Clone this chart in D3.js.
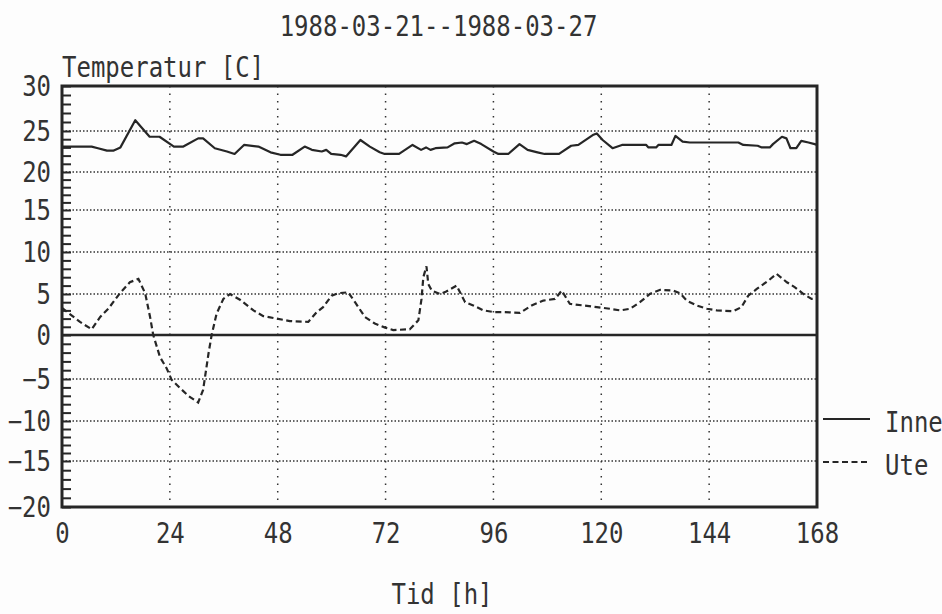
<!DOCTYPE html>
<html>
<head>
<meta charset="utf-8">
<script src="https://cdn.jsdelivr.net/npm/d3@7"></script>
<style>
  html, body { margin: 0; padding: 0; background: #fdfdfd; }
  svg { display: block; }
  text { font-family: "DejaVu Sans Mono", monospace; fill: #333; }
</style>
</head>
<body>
<svg id="chart" width="942" height="614"></svg>
<script>
// ---------- data ----------
const title = "1988-03-21--1988-03-27";
const yTitle = "Temperatur [C]";
const xTitle = "Tid [h]";
const seriesNames = ["Inne", "Ute"];

const xTicks = [0, 24, 48, 72, 96, 120, 144, 168];
const yTicks = [-20, -15, -10, -5, 0, 5, 10, 15, 20, 25, 30];

const inneHours = [0, 6.6, 8, 10, 11.4, 13, 16.3, 19.5, 21.7, 24.9, 27, 30.3, 31.4, 34, 36.7, 38.4, 40.5, 43.7, 46.4, 48.6,
  51.3, 54, 55.6, 57.8, 58.8, 59.9, 62, 63.2, 66.4, 68.5, 70.7, 71.8, 75, 78, 79.9, 81, 82, 83.1, 85.8, 87.4,
  89, 90.1, 91.7, 93.3, 96, 97.1, 99.3, 101.8, 103.6, 105.8, 107.4, 110.6, 113.3, 114.9, 118.1, 119, 120.3, 122.5, 124.6, 130,
  130.5, 132.2, 132.7, 135.6, 136.5, 138.1, 139.7, 150.5, 151.6, 154.8, 155.7, 157.5, 158.2, 160.2, 161.2, 162.1, 163.4, 164.5, 166.1, 167.5, 168];
const inneTemp = [23.1, 23.1, 22.9, 22.6, 22.6, 23.0, 26.2, 24.3, 24.3, 23.1, 23.1, 24.1, 24.1, 22.9, 22.5, 22.2, 23.3, 23.1, 22.4, 22.1,
  22.1, 23.1, 22.7, 22.5, 22.7, 22.2, 22.1, 21.9, 23.9, 23.1, 22.4, 22.2, 22.2, 23.3, 22.7, 23.0, 22.7, 22.9, 23.0, 23.5,
  23.6, 23.4, 23.8, 23.4, 22.5, 22.2, 22.2, 23.4, 22.7, 22.4, 22.2, 22.2, 23.2, 23.3, 24.5, 24.7, 23.9, 22.9, 23.3, 23.3,
  23.0, 23.0, 23.3, 23.3, 24.4, 23.7, 23.6, 23.6, 23.3, 23.2, 23.0, 23.0, 23.4, 24.3, 24.1, 22.9, 22.9, 23.8, 23.6, 23.4, 23.3];

const uteHours = [0, 4, 6.6, 8.5, 10.3, 12.9, 15.1, 17, 18.5, 19.6, 20.3, 21.8, 23.3, 24.4, 26.3, 28.1, 30.3, 31.4, 32.6, 33.3,
  34.4, 35.9, 37.4, 39.6, 42.6, 44.8, 47.8, 50.7, 54.8, 56.7, 58.1, 60, 61.5, 63.7, 65.2, 67.4, 69.6, 71.9, 73.7, 77.4,
  79.3, 80, 80.4, 81.1, 81.5, 82.3, 84.1, 85.5, 87.8, 89.7, 91.5, 93.8, 96, 97.8, 101.9, 104.5, 107.1, 109.7, 111.2, 113,
  116, 119, 121.9, 124.2, 126.4, 128.6, 130.8, 133.1, 136, 137.5, 139, 141.2, 143.5, 145.7, 149.4, 151.2, 152.7, 154.6, 157.2, 159,
  161.3, 163.1, 165, 166.8, 168];
const uteTemp = [3.3, 1.6, 0.7, 2.2, 3.2, 5.1, 6.4, 6.8, 5.1, 2.2, 0, -2.5, -3.8, -5.1, -6.1, -7.0, -7.8, -6.3, -2.1, 0,
  2.6, 4.4, 5.0, 4.3, 3.0, 2.3, 2.0, 1.7, 1.6, 2.8, 3.4, 4.8, 5.1, 5.2, 4.0, 2.2, 1.4, 0.9, 0.6, 0.7,
  1.8, 4.4, 7.0, 8.3, 6.2, 5.4, 5.0, 5.3, 6.0, 4.0, 3.6, 3.0, 2.8, 2.8, 2.7, 3.6, 4.2, 4.4, 5.4, 3.8,
  3.6, 3.4, 3.2, 3.0, 3.2, 4.0, 5.0, 5.5, 5.4, 5.1, 4.2, 3.6, 3.2, 3.0, 2.9, 3.4, 4.8, 5.6, 6.6, 7.4,
  6.4, 5.8, 5.0, 4.4, 4.4];

// ---------- layout ----------
const svg = d3.select("#chart");
const pLeft = 62, pRight = 817, pTop = 86, pBottom = 507;
const ink = "#262626";
const stretch = "scale(1,1.18)";

const x = d3.scaleLinear().domain([0, 168]).range([pLeft, pRight]);
// piecewise-linear to follow the scanned plot's grid positions
const y = d3.scaleLinear()
  .domain([-20, -15, -10, -5, 0, 5, 10, 15, 20, 25, 30])
  .range([507, 461, 421, 379, 335, 294, 252, 210, 172, 131, 86]);

// gridlines (dotted)
const grid = svg.append("g");
grid.selectAll(".hg").data(yTicks.filter(v => v > -20 && v < 30 && v !== 0)).join("line")
  .attr("x1", pLeft).attr("x2", pRight)
  .attr("y1", d => y(d)).attr("y2", d => y(d))
  .attr("stroke", "#333").attr("stroke-width", 1.5).attr("stroke-dasharray", "1.5,2");
grid.selectAll(".vg").data(xTicks.filter(v => v > 0 && v < 168)).join("line")
  .attr("x1", d => x(d)).attr("x2", d => x(d))
  .attr("y1", pTop).attr("y2", pBottom)
  .attr("stroke", "#333").attr("stroke-width", 1.5).attr("stroke-dasharray", "1.5,6");

// zero line
svg.append("line").attr("x1", pLeft).attr("x2", pRight).attr("y1", y(0)).attr("y2", y(0))
  .attr("stroke", ink).attr("stroke-width", 2.5);

// minor ticks on left axis (every degree)
const minor = svg.append("g").attr("transform", `translate(${pLeft},0)`)
  .call(d3.axisRight(y).tickValues(d3.range(-20, 31, 1)).tickSize(9).tickFormat(""));
minor.select(".domain").remove();
minor.selectAll("line").attr("stroke", ink).attr("stroke-width", 2);

// y labels
const yAx = svg.append("g").attr("transform", `translate(${pLeft},0)`)
  .call(d3.axisLeft(y).tickValues(yTicks).tickSize(0).tickPadding(11));
yAx.select(".domain").remove();
yAx.selectAll("text").attr("font-size", 24).attr("font-family", "DejaVu Sans Mono")
  .attr("fill", "#333").attr("transform", stretch);

// x labels
const xAx = svg.append("g").attr("transform", `translate(0,${pBottom})`)
  .call(d3.axisBottom(x).tickValues(xTicks).tickSize(0).tickPadding(13.5));
xAx.select(".domain").remove();
xAx.selectAll("text").attr("font-size", 24).attr("font-family", "DejaVu Sans Mono")
  .attr("fill", "#333").attr("transform", stretch);

// series
const line = d3.line().x(d => x(d[0])).y(d => y(d[1]));
const inne = d3.zip(inneHours, inneTemp);
const ute = d3.zip(uteHours, uteTemp);
svg.append("path").datum(inne).attr("d", line)
  .attr("fill", "none").attr("stroke", ink).attr("stroke-width", 2.2).attr("stroke-linejoin", "round");
svg.append("path").datum(ute).attr("d", line)
  .attr("fill", "none").attr("stroke", ink).attr("stroke-width", 2.2).attr("stroke-dasharray", "6,3.5");

// frame
svg.append("rect").attr("x", pLeft).attr("y", pTop).attr("width", pRight - pLeft).attr("height", pBottom - pTop)
  .attr("fill", "none").attr("stroke", ink).attr("stroke-width", 3);

// titles
function txt(s, tx, ty, anchor) {
  svg.append("text").attr("transform", `translate(${tx},${ty}) ${stretch}`)
    .attr("text-anchor", anchor).attr("font-size", 24).text(s);
}
txt(title, 438.5, 36, "middle");
txt(yTitle, 62, 77, "start");
txt(xTitle, 442, 604, "middle");

// legend
const legY = [419, 462];
const dashes = [null, "6,3.5"];
seriesNames.forEach((name, i) => {
  svg.append("line").attr("x1", 823).attr("x2", 870).attr("y1", legY[i]).attr("y2", legY[i])
    .attr("stroke", ink).attr("stroke-width", 2).attr("stroke-dasharray", dashes[i]);
  txt(name, 885, legY[i] + 13, "start");
});
</script>
</body>
</html>
